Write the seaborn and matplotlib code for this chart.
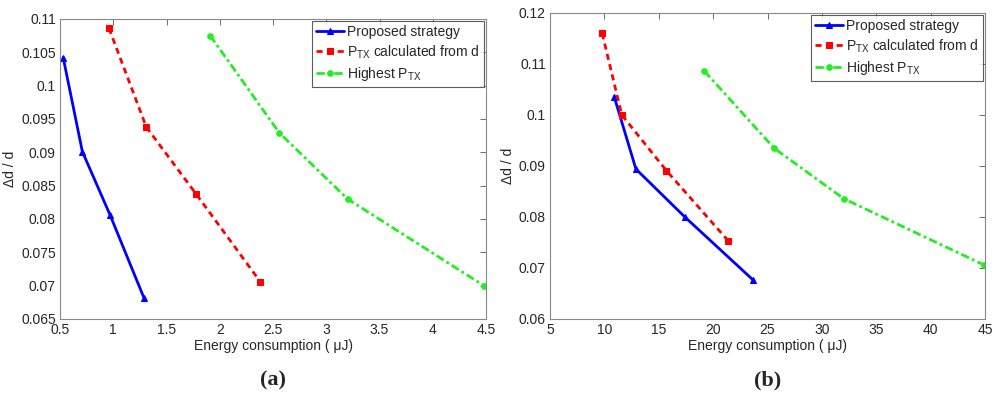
import numpy as np
import pandas as pd
import matplotlib
matplotlib.use('Agg')
import matplotlib.pyplot as plt
import seaborn as sns

# Panel (a) data
a_prop_x = [0.53, 0.71, 0.97, 1.29]
a_prop_y = [0.1042, 0.0901, 0.0806, 0.0681]
a_calc_x = [0.96, 1.31, 1.78, 2.38]
a_calc_y = [0.1086, 0.0938, 0.0837, 0.0706]
a_high_x = [1.91, 2.56, 3.20, 4.48]
a_high_y = [0.1075, 0.0929, 0.0830, 0.0700]

# Panel (b) data
b_prop_x = [10.9, 12.9, 17.4, 23.7]
b_prop_y = [0.1036, 0.0894, 0.0800, 0.0676]
b_calc_x = [9.8, 11.6, 15.7, 21.4]
b_calc_y = [0.1160, 0.1000, 0.0891, 0.0753]
b_high_x = [19.2, 25.6, 32.0, 44.9]
b_high_y = [0.1086, 0.0935, 0.0836, 0.0706]

labels = ['Proposed strategy',
          r'P$_{\mathrm{TX}}$ calculated from d',
          r'Highest P$_{\mathrm{TX}}$']

sns.set_style('white')
plt.rcParams['font.family'] = ['Liberation Sans', 'DejaVu Sans']
plt.rcParams['mathtext.fontset'] = 'custom'
plt.rcParams['mathtext.rm'] = 'Liberation Sans'

styles = [
    dict(color='#0000ff', linestyle='-', marker='^', markersize=5, linewidth=2),
    dict(color='#ff0000', linestyle=(0, (2.2, 1.6)), marker='s', markersize=4, linewidth=2),
    dict(color='#22ee22', linestyle=(0, (3, 1.2, 1, 1.2)), marker='o', markersize=4, linewidth=2),
]

fig = plt.figure(figsize=(10, 3.98), dpi=100)
ax_a = fig.add_axes([0.06, 0.1985, 0.426, 0.754])
ax_b = fig.add_axes([0.55, 0.1985, 0.435, 0.769])

panels = [
    (ax_a, [(a_prop_x, a_prop_y), (a_calc_x, a_calc_y), (a_high_x, a_high_y)],
     (0.5, 4.5), (0.065, 0.11), np.arange(0.5, 4.51, 0.5), np.arange(0.065, 0.1101, 0.005), '(a)'),
    (ax_b, [(b_prop_x, b_prop_y), (b_calc_x, b_calc_y), (b_high_x, b_high_y)],
     (5, 45), (0.06, 0.12), np.arange(5, 46, 5), np.arange(0.06, 0.1201, 0.01), '(b)'),
]

for ax, series, xlim, ylim, xt, yt, tag in panels:
    for (x, y), lab, st in zip(series, labels, styles):
        df = pd.DataFrame({'x': x, 'y': y})
        sns.lineplot(data=df, x='x', y='y', ax=ax, sort=False, estimator=None,
                     label=lab, markeredgewidth=0.8, markeredgecolor=st['color'], **st)
    ax.set_xlim(*xlim)
    ax.set_ylim(*ylim)
    ax.set_xticks(xt)
    ax.set_yticks(yt)
    ax.set_xticklabels([f'{v:g}' for v in xt], fontsize=10)
    ax.set_yticklabels([f'{round(v, 3):g}' for v in yt], fontsize=10)
    ax.tick_params(direction='in', length=4, width=0.6, color='#555555',
                   top=True, right=True, pad=3)
    for s in ax.spines.values():
        s.set_color('#888888')
        s.set_linewidth(0.8)
    ax.set_xlabel('Energy consumption ( \u03bcJ)', fontsize=10, labelpad=1)
    ax.set_ylabel('\u0394d / d', fontsize=10, labelpad=3)
    leg = ax.legend(loc='upper right', fontsize=10, frameon=True, fancybox=False,
                    borderaxespad=0.15, handlelength=2.0, handletextpad=0.2,
                    labelspacing=0.3, borderpad=0.3)
    leg.get_frame().set_edgecolor('#333333')
    leg.get_frame().set_linewidth(0.8)
    bb = ax.get_position()
    fig.text(bb.x0 + bb.width / 2, 0.045, tag, ha='center', va='center',
             fontsize=16, fontweight='bold', family='Liberation Serif')

fig.savefig('out.png', dpi=100)
